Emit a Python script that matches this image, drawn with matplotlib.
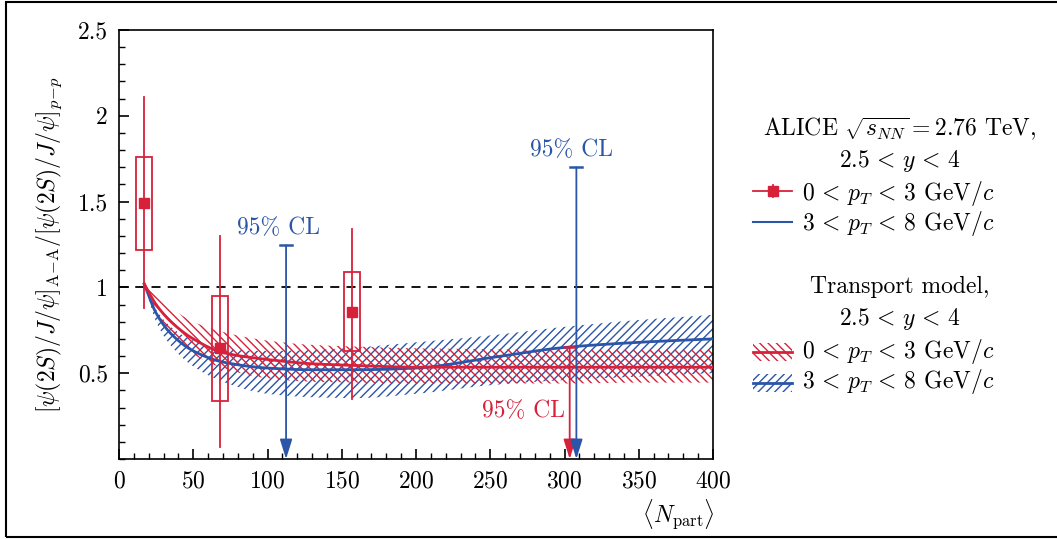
import matplotlib
matplotlib.use("Agg")
import matplotlib.pyplot as plt
from matplotlib.patches import Rectangle
from matplotlib.ticker import MultipleLocator
import numpy as np

FS = 17
plt.rcParams.update({
    "font.family": "serif",
    "font.serif": ["cmr10"],
    "mathtext.fontset": "cm",
    "axes.formatter.use_mathtext": True,
    "hatch.linewidth": 1.0,
    "font.size": FS,
})

RED = "#d7213b"
BLUE = "#2b55a8"

# ALICE data, 0 < pT < 3 GeV/c
npart_lo = [17, 68, 157]
ratio_lo = [1.49, 0.645, 0.855]
stat_up_lo = [2.11, 1.30, 1.34]
stat_dn_lo = [0.88, 0.07, 0.35]
syst_up_lo = [1.76, 0.95, 1.09]
syst_dn_lo = [1.22, 0.34, 0.63]
box_halfwidth = 5.5

# 95% CL upper limits
limit_lo_x = [303.5]
limit_lo_y = [0.65]
limit_hi_x = [112.5, 308]
limit_hi_y = [1.245, 1.70]

# Transport model
model_x = [17, 25, 35, 50, 70, 100, 130, 160, 200, 250, 300, 350, 400]
model_lo = [1.02, 0.90, 0.80, 0.70, 0.62, 0.58, 0.555, 0.545, 0.535, 0.535, 0.535, 0.535, 0.535]
model_lo_up = [1.02, 0.95, 0.88, 0.80, 0.74, 0.69, 0.665, 0.655, 0.645, 0.64, 0.635, 0.635, 0.635]
model_lo_dn = [1.02, 0.86, 0.73, 0.61, 0.53, 0.47, 0.45, 0.445, 0.44, 0.44, 0.44, 0.445, 0.445]
model_hi = [1.02, 0.85, 0.73, 0.63, 0.565, 0.53, 0.52, 0.52, 0.53, 0.59, 0.65, 0.68, 0.70]
model_hi_up = [1.02, 0.87, 0.77, 0.69, 0.64, 0.63, 0.635, 0.65, 0.68, 0.72, 0.77, 0.81, 0.84]
model_hi_dn = [1.02, 0.80, 0.66, 0.54, 0.45, 0.38, 0.36, 0.355, 0.38, 0.43, 0.46, 0.48, 0.50]

LABEL_LO = r"$0\,<\,p_T\,<\,3$ GeV$/c$"
LABEL_HI = r"$3\,<\,p_T\,<\,8$ GeV$/c$"
HATCH_LO = "\\\\\\\\"
HATCH_HI = "////"


def smooth(x, y, n=300):
    """Monotone cubic (PCHIP) interpolation through the model points."""
    xs = np.linspace(min(x), max(x), n)
    xp = np.asarray(x, float)
    yp = np.asarray(y, float)
    h = np.diff(xp)
    d = np.diff(yp) / h
    m = np.zeros_like(yp)
    for i in range(1, len(xp) - 1):
        if d[i - 1] * d[i] > 0:
            w1 = 2 * h[i] + h[i - 1]
            w2 = h[i] + 2 * h[i - 1]
            m[i] = (w1 + w2) / (w1 / d[i - 1] + w2 / d[i])
    m[0] = d[0]
    m[-1] = d[-1]
    idx = np.clip(np.searchsorted(xp, xs) - 1, 0, len(xp) - 2)
    t = (xs - xp[idx]) / h[idx]
    h00 = 2 * t**3 - 3 * t**2 + 1
    h10 = t**3 - 2 * t**2 + t
    h01 = -2 * t**3 + 3 * t**2
    h11 = t**3 - t**2
    ys = h00 * yp[idx] + h10 * h[idx] * m[idx] + h01 * yp[idx + 1] + h11 * h[idx] * m[idx + 1]
    return xs, ys


fig = plt.figure(figsize=(10.57, 5.39), dpi=100)
ax = fig.add_axes([119 / 1057, 1 - 459 / 539, (713 - 119) / 1057, (459 - 30) / 539])

# model bands
xs, up = smooth(model_x, model_hi_up)
_, dn = smooth(model_x, model_hi_dn)
ax.fill_between(xs, dn, up, facecolor="none", edgecolor=BLUE, hatch=HATCH_HI, linewidth=0, zorder=1)
xs, up = smooth(model_x, model_lo_up)
_, dn = smooth(model_x, model_lo_dn)
ax.fill_between(xs, dn, up, facecolor="none", edgecolor=RED, hatch=HATCH_LO, linewidth=0, zorder=1.1)

xs, yb = smooth(model_x, model_hi)
ax.plot(xs, yb, color=BLUE, lw=2.0, zorder=3)
xs, yr = smooth(model_x, model_lo)
ax.plot(xs, yr, color=RED, lw=2.0, zorder=3)

ax.axhline(1.0, color="black", lw=1.3, ls=(0, (5, 4)), zorder=2)

# data points with statistical bars and systematic boxes
for x, y, su, sd, bu, bd in zip(npart_lo, ratio_lo, stat_up_lo, stat_dn_lo, syst_up_lo, syst_dn_lo):
    ax.plot([x, x], [sd, su], color=RED, lw=1.3, zorder=4)
    ax.add_patch(Rectangle((x - box_halfwidth, bd), 2 * box_halfwidth, bu - bd,
                           facecolor="none", edgecolor=RED, lw=1.3, zorder=4))
    ax.plot([x], [y], marker="s", ms=7, color=RED, zorder=5, ls="none")


def upper_limit(x, y, color):
    ax.plot([x - 4, x + 4], [y, y], color=color, lw=1.8, zorder=4)
    ax.annotate("", xy=(x, 0.0), xytext=(x, y),
                arrowprops=dict(arrowstyle="-|>,head_length=0.7,head_width=0.22",
                                color=color, lw=1.3, shrinkA=0, shrinkB=0), zorder=4)


for x, y in zip(limit_lo_x, limit_lo_y):
    upper_limit(x, y, RED)
for x, y in zip(limit_hi_x, limit_hi_y):
    upper_limit(x, y, BLUE)

ax.text(limit_lo_x[0] - 3, 0.28, "95% CL", color=RED, ha="right", va="center", fontsize=FS)
ax.text(limit_hi_x[0] - 5, limit_hi_y[0] + 0.10, "95% CL", color=BLUE, ha="center", va="center", fontsize=FS)
ax.text(limit_hi_x[1] - 3, limit_hi_y[1] + 0.10, "95% CL", color=BLUE, ha="center", va="center", fontsize=FS)

ax.set_xlim(0, 400)
ax.set_ylim(0, 2.5)
ax.xaxis.set_major_locator(MultipleLocator(50))
ax.xaxis.set_minor_locator(MultipleLocator(10))
ax.yaxis.set_minor_locator(MultipleLocator(0.1))
ax.set_yticks([0.5, 1, 1.5, 2, 2.5])
ax.set_yticklabels(["0.5", "1", "1.5", "2", "2.5"])
ax.tick_params(which="both", direction="in", top=False, right=False, labelsize=FS)
ax.tick_params(which="major", length=7, width=1.2, pad=8)
ax.tick_params(which="minor", length=4, width=1.0)
for s in ax.spines.values():
    s.set_linewidth(1.2)

ax.set_ylabel(r"$[\psi(2S)/J/\psi]_{\mathrm{A\!-\!A}}/[\psi(2S)/J/\psi]_{p\!-\!p}$", fontsize=FS, labelpad=10)
fig.text(678 / 1057, 1 - 515 / 539, r"$\langle N_{\mathrm{part}}\rangle$", ha="center", va="center", fontsize=FS)

# legend panel, laid out in pixel units
lg = fig.add_axes([0, 0, 1, 1], zorder=5)
lg.set_xlim(0, 1057)
lg.set_ylim(539, 0)
lg.axis("off")
lg.patch.set_alpha(0)

TITLE_X = 900
H_X0, H_X1, TXT_X = 753, 792, 802

lg.text(TITLE_X, 135, r"ALICE $\sqrt{s_{NN}} = 2.76$ TeV,", ha="center", va="baseline", fontsize=FS)
lg.text(TITLE_X, 167, r"$2.5\,<\,y\,<\,4$", ha="center", va="baseline", fontsize=FS)

# data entries
lg.plot([H_X0, H_X1], [191, 191], color=RED, lw=1.3)
lg.plot([(H_X0 + H_X1) / 2] * 2, [185, 197], color=RED, lw=1.3)
lg.plot([(H_X0 + H_X1) / 2], [191], marker="s", ms=7, color=RED)
lg.text(TXT_X, 200, LABEL_LO, ha="left", va="baseline", fontsize=FS)
lg.plot([H_X0, H_X1], [222, 222], color=BLUE, lw=1.5)
lg.text(TXT_X, 230, LABEL_HI, ha="left", va="baseline", fontsize=FS)

lg.text(TITLE_X, 293, "Transport model,", ha="center", va="baseline", fontsize=FS)
lg.text(TITLE_X, 325, r"$2.5\,<\,y\,<\,4$", ha="center", va="baseline", fontsize=FS)

# model entries
for yc, col, hatch, label, base in [(352, RED, HATCH_LO, LABEL_LO, 358),
                                    (383, BLUE, HATCH_HI, LABEL_HI, 388)]:
    lg.add_patch(Rectangle((H_X0, yc - 9), H_X1 - H_X0, 18, facecolor="none",
                           edgecolor=col, hatch=hatch, lw=0))
    lg.plot([H_X0, H_X1], [yc, yc], color=col, lw=2.0)
    lg.text(TXT_X, base, label, ha="left", va="baseline", fontsize=FS)

# outer frame
frame = Rectangle((6 / 1057, 1 - 537 / 539), 1.2, 535 / 539, transform=fig.transFigure,
                  facecolor="none", edgecolor="black", lw=1.5, clip_on=False)
fig.add_artist(frame)

fig.savefig("out.png", dpi=100)
